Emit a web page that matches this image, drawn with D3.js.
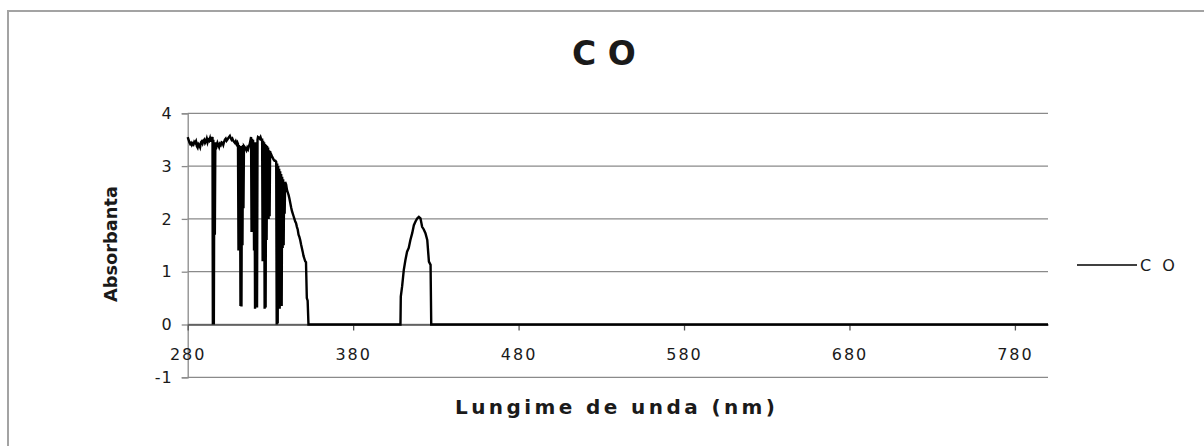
<!DOCTYPE html>
<html>
<head>
<meta charset="utf-8">
<script src="https://cdn.jsdelivr.net/npm/d3@7"></script>
<style>
  body { margin: 0; background: #fff; }
  text { font-family: "DejaVu Sans", sans-serif; fill: #1a1a1a; }
</style>
</head>
<body>
<div id="chart"></div>
<script>
// spectrum (nm / absorbance)
let wavelength = [
  280, 280.5, 281, 281.5, 282, 282.5, 283, 283.5, 284, 284.5, 285, 285.5, 286, 286.5, 287, 287.5,
  288, 288.5, 289, 289.5, 290, 290.5, 291, 291.5, 292, 292.5, 293, 293.5, 294, 294.5, 295,
  295.2, 295.5, 295.8, 296.1, 296.4, 296.7,
  297, 297.5, 298, 298.5, 299, 299.5, 300, 300.5, 301, 301.5, 302, 302.5, 303, 303.5, 304, 304.5,
  305, 305.5, 306, 306.5, 307, 307.5, 308, 308.5, 309, 309.5, 310,
  310.4, 310.7, 311, 311.3, 311.6, 311.9, 312.2, 312.5, 312.8, 313.1, 313.4, 313.7, 314,
  314.5, 315, 315.5, 316, 316.5, 317, 317.5, 318,
  318.3, 318.6, 318.9, 319.2, 319.5, 319.8, 320.1, 320.4, 320.7, 321, 321.3, 321.6, 321.9, 322.2, 322.5,
  323, 323.5, 324, 324.5,
  325, 325.3, 325.6, 325.9, 326.2, 326.5, 326.8, 327.1, 327.4, 327.7, 328, 328.3, 328.6, 328.9, 329.2, 329.5, 329.8,
  330, 330.5, 331, 331.5, 332, 332.5, 333,
  333.5, 333.8, 334.1, 334.4, 334.7, 335, 335.3, 335.6, 335.9, 336.2, 336.5, 336.8, 337.1, 337.4, 337.7, 338, 338.3, 338.6, 338.9,
  339.5, 340, 340.5, 341, 341.5, 342, 342.5, 343, 343.5, 344, 344.5, 345, 345.5, 346, 346.5, 347, 347.5,
  348, 348.5, 349, 349.5, 350, 350.5, 351, 351.5, 352, 352.5, 353,
  360, 380, 400, 408.6,
  408.8, 409.6, 410.6, 411.6, 412.6, 413.6, 414.6, 415.7, 416.7, 417.7, 418.7, 419.7, 420.7, 421.7, 422.7,
  423.7, 424.8, 425.8, 426.8, 427.2,
  440, 500, 600, 700, 800
];
let absorbance = [
  3.55, 3.50, 3.45, 3.42, 3.44, 3.40, 3.43, 3.41, 3.46, 3.44, 3.47, 3.38, 3.35, 3.42, 3.40, 3.36,
  3.45, 3.47, 3.43, 3.48, 3.50, 3.44, 3.47, 3.52, 3.45, 3.50, 3.48, 3.53, 3.46, 3.52, 3.55,
  0, 3.50, 0, 3.40, 1.70, 3.45,
  3.42, 3.38, 3.44, 3.40, 3.36, 3.42, 3.40, 3.45, 3.44, 3.40, 3.46, 3.50, 3.52, 3.48, 3.50, 3.53,
  3.55, 3.57, 3.53, 3.50, 3.52, 3.48, 3.46, 3.44, 3.47, 3.42, 3.45,
  3.42, 1.40, 3.40, 1.45, 3.35, 0.35, 3.38, 0.34, 3.35, 1.50, 3.40, 2.20, 3.38,
  3.36, 3.33, 3.30, 3.35, 3.32, 3.38, 3.42, 3.50,
  3.55, 1.75, 3.52, 1.80, 3.50, 3.30, 1.40, 3.45, 0.30, 3.40, 1.45, 3.45, 0.32, 3.50, 3.55,
  3.54, 3.52, 3.55, 3.50,
  3.50, 1.20, 3.48, 1.25, 3.45, 0.30, 3.42, 0.32, 3.40, 1.60, 3.38, 2.00, 3.35, 2.00, 3.30, 2.05, 3.28,
  3.25, 3.22, 3.18, 3.15, 3.12, 3.10, 3.10,
  3.08, 0, 3.05, 0.02, 3.00, 0.30, 2.95, 0.30, 2.90, 1.40, 2.85, 0.35, 2.80, 1.45, 2.75, 1.50, 2.70, 2.10, 2.70,
  2.65, 2.55, 2.50, 2.45, 2.38, 2.30, 2.22, 2.15, 2.10, 2.05, 2.00, 1.95, 1.92, 1.85, 1.80, 1.70, 1.66,
  1.60, 1.52, 1.45, 1.38, 1.30, 1.25, 1.20, 1.18, 0.50, 0.45, 0,
  0, 0, 0, 0,
  0.53, 0.72, 1.03, 1.22, 1.38, 1.45, 1.60, 1.73, 1.88, 1.95, 2.01, 2.04, 2.01, 1.85, 1.80,
  1.73, 1.60, 1.19, 1.13, 0,
  0, 0, 0, 0, 0
];
let xTicks = [280, 380, 480, 580, 680, 780];
let yTicks = [-1, 0, 1, 2, 3, 4];
let seriesName = "C O";
let chartTitle = "C O";
let xTitle = "Lungime de unda (nm)";
let yTitle = "Absorbanta";

const W = 1204, H = 446;
const GRID = "#8a8a8a";

let svg = d3.select("#chart").append("svg")
  .attr("width", W)
  .attr("height", H);

// chart area border (bottom/right run off the picture)
svg.append("rect")
  .attr("x", 8).attr("y", 11)
  .attr("width", 1210).attr("height", 460)
  .attr("fill", "#fff")
  .attr("stroke", "#a3a3a3")
  .attr("stroke-width", 2);

let x = d3.scaleLinear().domain([280, 800]).range([187.7, 1048]);
let y = d3.scaleLinear().domain([-1, 4]).range([377.3, 113.3]);

// horizontal gridlines
svg.append("g").selectAll("line")
  .data(yTicks)
  .enter()
  .append("line")
  .attr("x1", x(280)).attr("x2", x(800))
  .attr("y1", d => y(d)).attr("y2", d => y(d))
  .attr("stroke", GRID)
  .attr("stroke-width", 1.3);

// y axis
let yAxis = svg.append("g")
  .attr("transform", "translate(" + x(280) + ",0)")
  .call(d3.axisLeft(y).tickValues(yTicks).tickSize(6).tickPadding(9).tickFormat(d => String(d)));
yAxis.select(".domain").attr("stroke", GRID).attr("stroke-width", 1.3);
yAxis.selectAll(".tick line").attr("stroke", GRID).attr("stroke-width", 1.3);
yAxis.selectAll("text")
  .style("font-family", "DejaVu Sans")
  .style("font-size", "16px")
  .style("letter-spacing", "1px")
  .attr("fill", "#1a1a1a");

// x axis crosses at 0, labels sit low (between 0 and -1)
let xAxis = svg.append("g")
  .attr("transform", "translate(0," + y(0) + ")")
  .call(d3.axisBottom(x).tickValues(xTicks).tickSize(6).tickSizeOuter(0).tickPadding(18));
xAxis.select(".domain").attr("stroke", "#555").attr("stroke-width", 1.3);
xAxis.selectAll(".tick line").attr("stroke", "#555").attr("stroke-width", 1.3);
xAxis.selectAll("text")
  .style("font-family", "DejaVu Sans")
  .style("font-size", "16px")
  .style("letter-spacing", "2px")
  .attr("fill", "#1a1a1a");

// data line
let points = wavelength.map((w, i) => [w, absorbance[i]]);
let line = d3.line()
  .x(d => x(d[0]))
  .y(d => y(d[1]));
svg.append("path")
  .datum(points)
  .attr("d", line)
  .attr("fill", "none")
  .attr("stroke", "#000")
  .attr("stroke-width", 2.4)
  .attr("stroke-linejoin", "miter");

// titles
svg.append("text")
  .attr("x", 604).attr("y", 65)
  .attr("text-anchor", "middle")
  .style("font-size", "33px").style("font-weight", "bold")
  .text(chartTitle);

svg.append("text")
  .attr("x", 615).attr("y", 414)
  .attr("text-anchor", "middle")
  .attr("textLength", 320).attr("lengthAdjust", "spacing")
  .style("font-size", "20px").style("font-weight", "bold")
  .text(xTitle);

svg.append("text")
  .attr("transform", "translate(117,244) rotate(-90)")
  .attr("text-anchor", "middle")
  .attr("textLength", 116).attr("lengthAdjust", "spacingAndGlyphs")
  .style("font-size", "17px").style("font-weight", "bold")
  .text(yTitle);

// legend
let legend = svg.append("g");
legend.append("line")
  .attr("x1", 1077).attr("x2", 1137)
  .attr("y1", 265).attr("y2", 265)
  .attr("stroke", "#000").attr("stroke-width", 1.5);
legend.append("text")
  .attr("x", 1140).attr("y", 271)
  .style("font-size", "16px")
  .style("letter-spacing", "3px")
  .text(seriesName);
</script>
</body>
</html>
